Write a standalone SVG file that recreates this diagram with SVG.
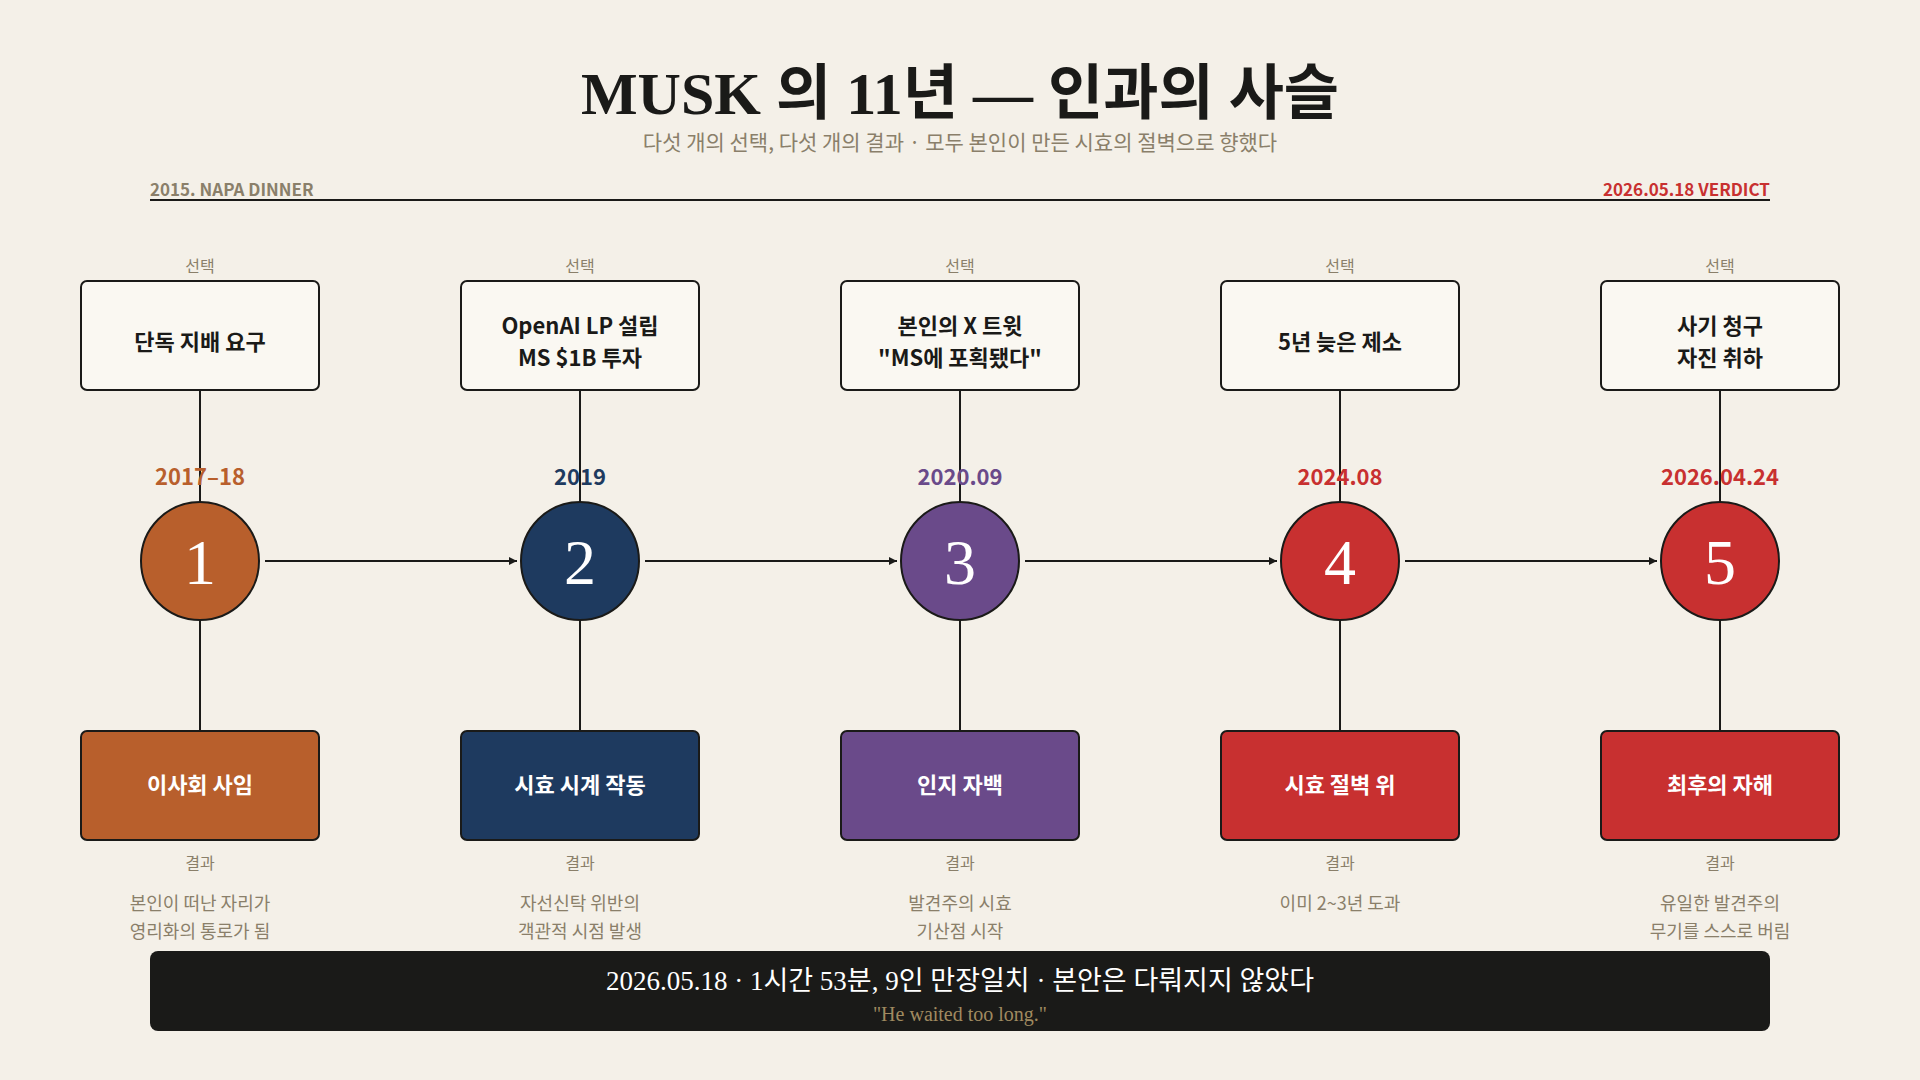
<svg xmlns="http://www.w3.org/2000/svg" width="1920" height="1080" viewBox="0 0 1920 1080">
<defs>
<marker id="ar" viewBox="0 0 10 10" refX="10" refY="5" markerWidth="8" markerHeight="8" markerUnits="userSpaceOnUse" orient="auto"><path d="M0,0 L10,5 L0,10 z" fill="#1a1a18"/></marker>
<style>
.sans{font-family:"Noto Sans CJK KR","Noto Sans",sans-serif}
.serif{font-family:"Liberation Serif","Noto Sans CJK KR",serif}
.small{font-size:16px;fill:#8a7f6a;text-anchor:middle}
.desc{font-size:18px;fill:#8a7f6a;text-anchor:middle}
.box{fill:#faf8f2;stroke:#1a1a18;stroke-width:2}
.bt{font-size:22px;font-weight:700;fill:#1a1a18;text-anchor:middle}
.rt{font-size:22px;font-weight:700;fill:#fff;text-anchor:middle}
.num{font-size:64px;fill:#fff;text-anchor:middle}
.date{font-size:22px;font-weight:700;text-anchor:middle}
.ln{stroke:#1a1a18;stroke-width:2;fill:none}
</style>
</defs>
<rect width="1920" height="1080" fill="#f4f0e8"/>
<text x="960" y="114" text-anchor="middle" class="serif" font-size="60" font-weight="700" fill="#1a1a18">MUSK 의 11년 — 인과의 사슬</text>
<text x="960" y="150" text-anchor="middle" class="sans" font-size="21" fill="#8a7f6a">다섯 개의 선택, 다섯 개의 결과 · 모두 본인이 만든 시효의 절벽으로 향했다</text>
<text x="150" y="196" class="sans" font-size="17" font-weight="700" fill="#8a7f6a">2015. NAPA DINNER</text>
<text x="1770" y="196" text-anchor="end" class="sans" font-size="17" font-weight="700" fill="#c83030">2026.05.18 VERDICT</text>
<line x1="150" y1="200" x2="1770" y2="200" stroke="#1a1a18" stroke-width="2"/>
<g id="connectors">
<line class="ln" x1="200" y1="390" x2="200" y2="501"/><line class="ln" x1="200" y1="621" x2="200" y2="731"/>
<line class="ln" x1="580" y1="390" x2="580" y2="501"/><line class="ln" x1="580" y1="621" x2="580" y2="731"/>
<line class="ln" x1="960" y1="390" x2="960" y2="501"/><line class="ln" x1="960" y1="621" x2="960" y2="731"/>
<line class="ln" x1="1340" y1="390" x2="1340" y2="501"/><line class="ln" x1="1340" y1="621" x2="1340" y2="731"/>
<line class="ln" x1="1720" y1="390" x2="1720" y2="501"/><line class="ln" x1="1720" y1="621" x2="1720" y2="731"/>
<line class="ln" x1="265" y1="561" x2="517" y2="561" marker-end="url(#ar)"/>
<line class="ln" x1="645" y1="561" x2="897" y2="561" marker-end="url(#ar)"/>
<line class="ln" x1="1025" y1="561" x2="1277" y2="561" marker-end="url(#ar)"/>
<line class="ln" x1="1405" y1="561" x2="1657" y2="561" marker-end="url(#ar)"/>
</g>
<g id="step1">
<text x="200" y="272" class="sans small">선택</text>
<rect class="box" x="81" y="281" width="238" height="109" rx="6"/>
<text x="200" y="350" class="sans bt">단독 지배 요구</text>
<text x="200" y="485" class="sans date" fill="#b85f2c">2017–18</text>
<circle cx="200" cy="561" r="59" fill="#b85f2c" stroke="#1a1a18" stroke-width="2"/>
<text x="200" y="584" class="serif num">1</text>
<rect x="81" y="731" width="238" height="109" rx="6" fill="#b85f2c" stroke="#1a1a18" stroke-width="2"/>
<text x="200" y="793" class="sans rt">이사회 사임</text>
<text x="200" y="869" class="sans small">결과</text>
<text x="200" y="910" class="sans desc">본인이 떠난 자리가</text>
<text x="200" y="938" class="sans desc">영리화의 통로가 됨</text>
</g>
<g id="step2">
<text x="580" y="272" class="sans small">선택</text>
<rect class="box" x="461" y="281" width="238" height="109" rx="6"/>
<text x="580" y="334" class="sans bt">OpenAI LP 설립</text>
<text x="580" y="366" class="sans bt">MS $1B 투자</text>
<text x="580" y="485" class="sans date" fill="#1e3a5f">2019</text>
<circle cx="580" cy="561" r="59" fill="#1e3a5f" stroke="#1a1a18" stroke-width="2"/>
<text x="580" y="584" class="serif num">2</text>
<rect x="461" y="731" width="238" height="109" rx="6" fill="#1e3a5f" stroke="#1a1a18" stroke-width="2"/>
<text x="580" y="793" class="sans rt">시효 시계 작동</text>
<text x="580" y="869" class="sans small">결과</text>
<text x="580" y="910" class="sans desc">자선신탁 위반의</text>
<text x="580" y="938" class="sans desc">객관적 시점 발생</text>
</g>
<g id="step3">
<text x="960" y="272" class="sans small">선택</text>
<rect class="box" x="841" y="281" width="238" height="109" rx="6"/>
<text x="960" y="334" class="sans bt">본인의 X 트윗</text>
<text x="960" y="366" class="sans bt">"MS에 포획됐다"</text>
<text x="960" y="485" class="sans date" fill="#6a4a8a">2020.09</text>
<circle cx="960" cy="561" r="59" fill="#6a4a8a" stroke="#1a1a18" stroke-width="2"/>
<text x="960" y="584" class="serif num">3</text>
<rect x="841" y="731" width="238" height="109" rx="6" fill="#6a4a8a" stroke="#1a1a18" stroke-width="2"/>
<text x="960" y="793" class="sans rt">인지 자백</text>
<text x="960" y="869" class="sans small">결과</text>
<text x="960" y="910" class="sans desc">발견주의 시효</text>
<text x="960" y="938" class="sans desc">기산점 시작</text>
</g>
<g id="step4">
<text x="1340" y="272" class="sans small">선택</text>
<rect class="box" x="1221" y="281" width="238" height="109" rx="6"/>
<text x="1340" y="350" class="sans bt">5년 늦은 제소</text>
<text x="1340" y="485" class="sans date" fill="#c83030">2024.08</text>
<circle cx="1340" cy="561" r="59" fill="#c83030" stroke="#1a1a18" stroke-width="2"/>
<text x="1340" y="584" class="serif num">4</text>
<rect x="1221" y="731" width="238" height="109" rx="6" fill="#c83030" stroke="#1a1a18" stroke-width="2"/>
<text x="1340" y="793" class="sans rt">시효 절벽 위</text>
<text x="1340" y="869" class="sans small">결과</text>
<text x="1340" y="910" class="sans desc">이미 2~3년 도과</text>
</g>
<g id="step5">
<text x="1720" y="272" class="sans small">선택</text>
<rect class="box" x="1601" y="281" width="238" height="109" rx="6"/>
<text x="1720" y="334" class="sans bt">사기 청구</text>
<text x="1720" y="366" class="sans bt">자진 취하</text>
<text x="1720" y="485" class="sans date" fill="#c83030">2026.04.24</text>
<circle cx="1720" cy="561" r="59" fill="#c83030" stroke="#1a1a18" stroke-width="2"/>
<text x="1720" y="584" class="serif num">5</text>
<rect x="1601" y="731" width="238" height="109" rx="6" fill="#c83030" stroke="#1a1a18" stroke-width="2"/>
<text x="1720" y="793" class="sans rt">최후의 자해</text>
<text x="1720" y="869" class="sans small">결과</text>
<text x="1720" y="910" class="sans desc">유일한 발견주의</text>
<text x="1720" y="938" class="sans desc">무기를 스스로 버림</text>
</g>
<g id="verdict">
<rect x="150" y="951" width="1620" height="80" rx="8" fill="#1a1a18"/>
<text x="960" y="990" text-anchor="middle" class="serif" font-size="27" fill="#ffffff">2026.05.18 · 1시간 53분, 9인 만장일치 · 본안은 다뤄지지 않았다</text>
<text x="960" y="1021" text-anchor="middle" class="serif" font-size="20" fill="#a08a60">"He waited too long."</text>
</g>
</svg>
